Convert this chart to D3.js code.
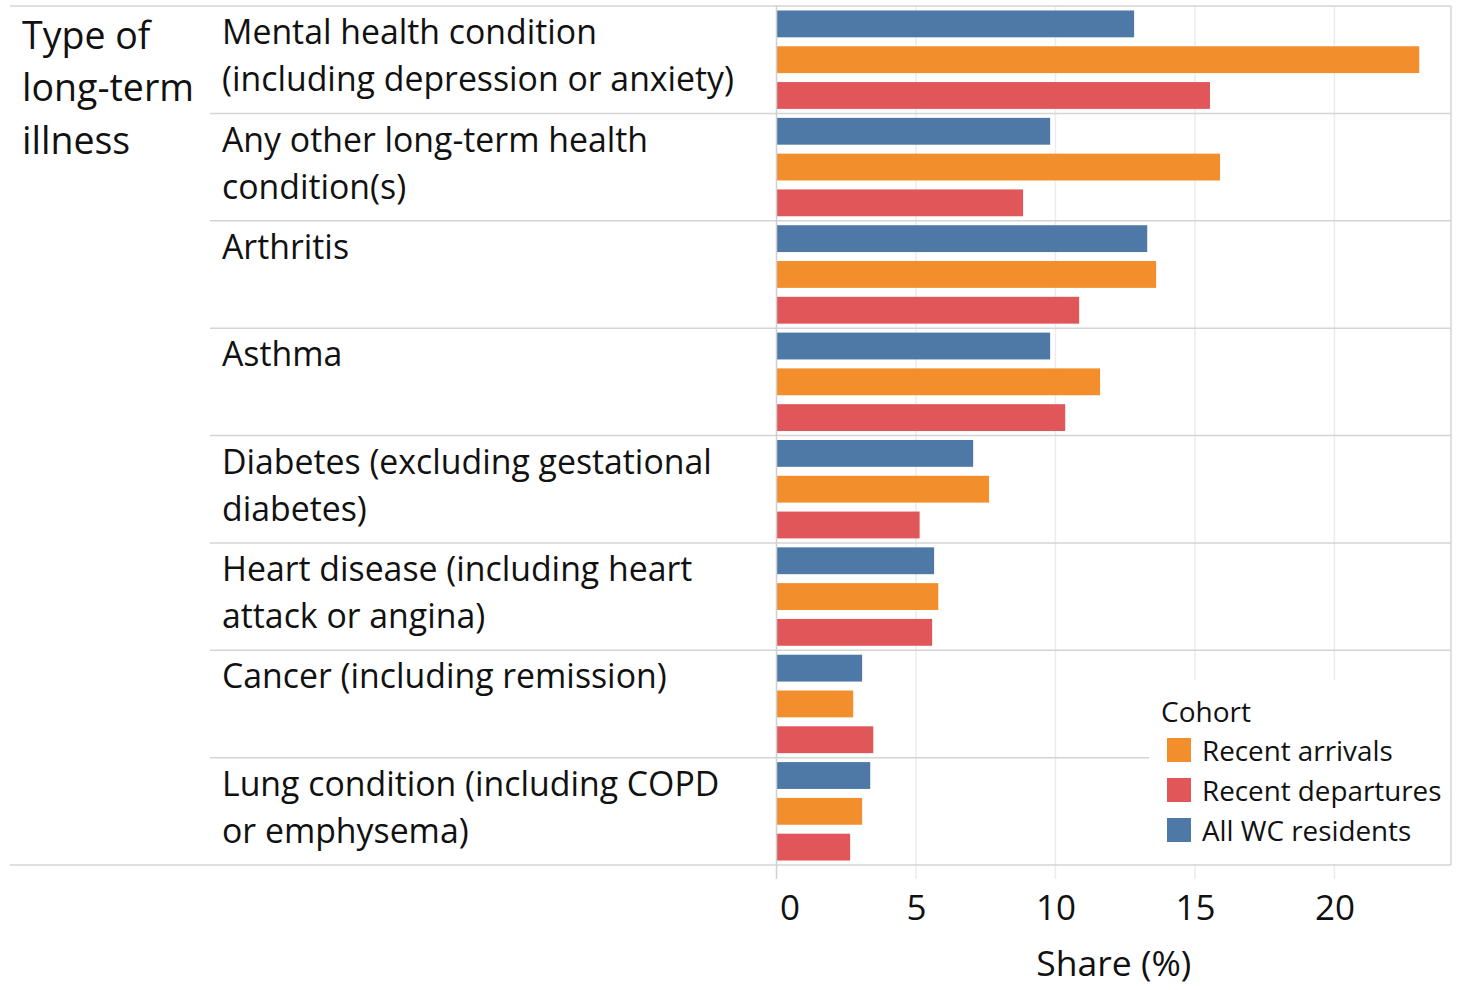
<!DOCTYPE html>
<html>
<head>
<meta charset="utf-8">
<script src="https://cdn.jsdelivr.net/npm/d3@7"></script>
<style>
  body { margin: 0; background: #fff; }
  text { font-family: "Open Sans", sans-serif; fill: #111; }
</style>
</head>
<body>
<div id="chart"></div>
<script>
// categories, one entry per row (line breaks as shown in the chart)
var categories = [
  ["Mental health condition", "(including depression or anxiety)"],
  ["Any other long-term health", "condition(s)"],
  ["Arthritis"],
  ["Asthma"],
  ["Diabetes (excluding gestational", "diabetes)"],
  ["Heart disease (including heart", "attack or angina)"],
  ["Cancer (including remission)"],
  ["Lung condition (including COPD", "or emphysema)"]
];

// share (%) per cohort, same order as categories
var allResidents = [12.82, 9.81, 13.29, 9.81, 7.05, 5.65, 3.07, 3.36];
var recentArrivals = [23.04, 15.90, 13.61, 11.60, 7.62, 5.80, 2.75, 3.07];
var recentDepartures = [15.54, 8.84, 10.85, 10.35, 5.13, 5.58, 3.47, 2.64];

var xTicks = [0, 5, 10, 15, 20];
var legendOrder = ["Recent arrivals", "Recent departures", "All WC residents"];

var series = [
  {name: "All WC residents", values: allResidents},
  {name: "Recent arrivals", values: recentArrivals},
  {name: "Recent departures", values: recentDepartures}
];

var W = 1466, H = 990;
var plotLeft = 776.5, plotRight = 1451, plotTop = 6, plotBottom = 865;
var labelLeft = 210;

var svg = d3.select("#chart").append("svg")
    .attr("width", W)
    .attr("height", H);

var color = d3.scaleOrdinal()
    .domain(["All WC residents", "Recent arrivals", "Recent departures"])
    .range(["#4e79a7", "#f28e2b", "#e15759"]);

var x = d3.scaleLinear()
    .domain([0, 24.18])
    .range([plotLeft, plotRight]);

var rowKeys = categories.map(function(d, i) { return i; });
var y = d3.scaleBand()
    .domain(rowKeys)
    .range([plotTop, plotBottom]);

var ySub = d3.scaleBand()
    .domain(series.map(function(s) { return s.name; }))
    .range([0, y.bandwidth()])
    .paddingInner(0.25)
    .paddingOuter(0.125);

// gridlines
svg.append("g")
    .selectAll("line")
    .data(xTicks.slice(1))
    .enter().append("line")
    .attr("x1", function(d) { return x(d); })
    .attr("x2", function(d) { return x(d); })
    .attr("y1", plotTop)
    .attr("y2", plotBottom + 14)
    .attr("stroke", "#ececec")
    .attr("stroke-width", 1.5);

// row separators
svg.append("g")
    .selectAll("line")
    .data(rowKeys.slice(1))
    .enter().append("line")
    .attr("x1", labelLeft)
    .attr("x2", plotRight)
    .attr("y1", function(d) { return y(d); })
    .attr("y2", function(d) { return y(d); })
    .attr("stroke", "#d4d4d4")
    .attr("stroke-width", 1.5);

// bars
svg.append("g")
    .selectAll("g")
    .data(series)
    .enter().append("g")
    .attr("fill", function(s) { return color(s.name); })
    .selectAll("rect")
    .data(function(s) { return s.values.map(function(v, i) { return {name: s.name, row: i, value: v}; }); })
    .enter().append("rect")
    .attr("x", x(0))
    .attr("y", function(d) { return y(d.row) + ySub(d.name); })
    .attr("width", function(d) { return x(d.value) - x(0); })
    .attr("height", ySub.bandwidth());

// zero line
svg.append("line")
    .attr("x1", x(0)).attr("x2", x(0))
    .attr("y1", plotTop - 1).attr("y2", plotBottom + 14)
    .attr("stroke", "#d0d0d0")
    .attr("stroke-width", 1.5);

// frame: top, bottom, right
svg.append("line")
    .attr("x1", 10).attr("x2", plotRight)
    .attr("y1", plotTop).attr("y2", plotTop)
    .attr("stroke", "#d4d4d4").attr("stroke-width", 1.5);
svg.append("line")
    .attr("x1", 10).attr("x2", plotRight)
    .attr("y1", plotBottom).attr("y2", plotBottom)
    .attr("stroke", "#d4d4d4").attr("stroke-width", 1.5);
svg.append("line")
    .attr("x1", plotRight).attr("x2", plotRight)
    .attr("y1", plotTop).attr("y2", plotBottom)
    .attr("stroke", "#d4d4d4").attr("stroke-width", 1.5);

// row header title
var title = ["Type of", "long-term", "illness"];
svg.append("g")
    .selectAll("text")
    .data(title)
    .enter().append("text")
    .attr("x", 22)
    .attr("y", function(d, i) { return 35 + i * 52.5; })
    .attr("dy", "0.36em")
    .style("font-size", "37.5px")
    .text(function(d) { return d; });

// row labels
var rowLabels = svg.append("g")
    .selectAll("text")
    .data(categories)
    .enter().append("text")
    .attr("x", 222)
    .attr("y", function(d, i) { return y(i) + 26; })
    .style("font-size", "33.8px");
rowLabels.selectAll("tspan")
    .data(function(d) { return d; })
    .enter().append("tspan")
    .attr("x", 222)
    .attr("dy", function(d, i) { return i == 0 ? "0.36em" : 47; })
    .text(function(d) { return d; });

// x axis
var axis = svg.append("g")
    .attr("transform", "translate(0," + 907 + ")")
    .call(d3.axisBottom(x).tickValues(xTicks).tickSize(0).tickPadding(0));
axis.select(".domain").remove();
axis.selectAll("text")
    .attr("y", 0)
    .attr("dy", "0.36em")
    .style("font-size", "35px")
    .style("font-family", "'Open Sans', sans-serif")
    .attr("fill", "#111")
    .attr("dx", function(d) { return d == 0 ? 13 : 0; });

svg.append("text")
    .attr("x", (plotLeft + plotRight) / 2)
    .attr("y", 963)
    .attr("dy", "0.36em")
    .attr("text-anchor", "middle")
    .style("font-size", "35.5px")
    .text("Share (%)");

// legend
var legend = svg.append("g");
legend.append("rect")
    .attr("x", 1149).attr("y", 680)
    .attr("width", plotRight - 1149 - 1)
    .attr("height", plotBottom - 680 - 1)
    .attr("fill", "#fff");
legend.append("text")
    .attr("x", 1161).attr("y", 712)
    .attr("dy", "0.36em")
    .style("font-size", "28px")
    .text("Cohort");
var items = legend.selectAll(".item")
    .data(legendOrder)
    .enter().append("g")
    .attr("class", "item")
    .attr("transform", function(d, i) { return "translate(1167," + (738 + i * 40) + ")"; });
items.append("rect")
    .attr("width", 24).attr("height", 24)
    .attr("fill", function(d) { return color(d); });
items.append("text")
    .attr("x", 35).attr("y", 13)
    .attr("dy", "0.36em")
    .style("font-size", "27.8px")
    .text(function(d) { return d; });
</script>
</body>
</html>
